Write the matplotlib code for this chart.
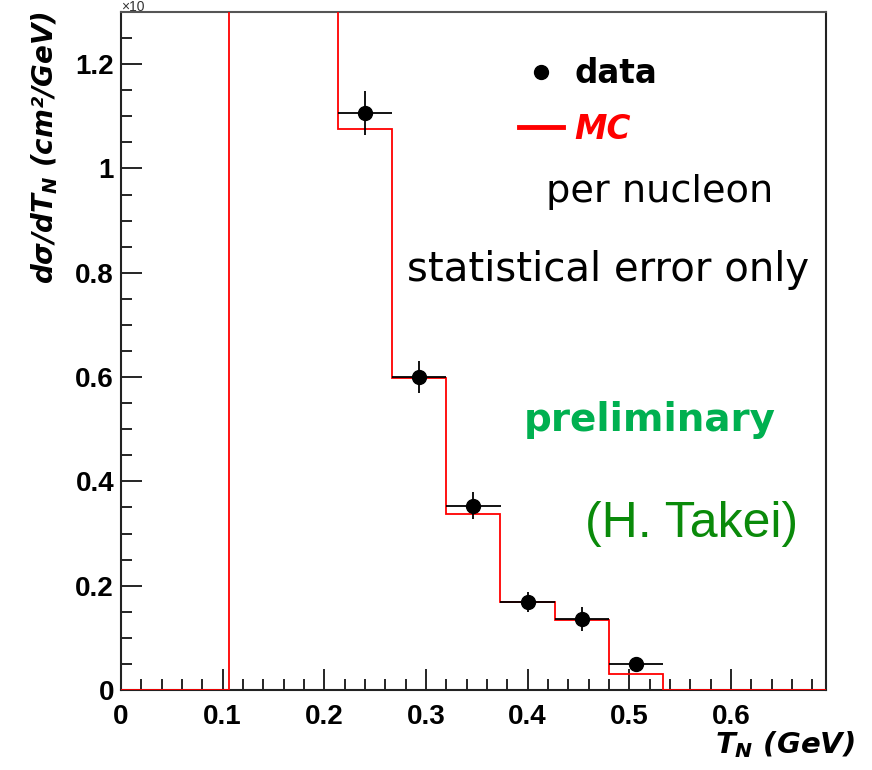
import numpy as np
import matplotlib
matplotlib.use("Agg")
import matplotlib.pyplot as plt
from matplotlib.ticker import MultipleLocator, FuncFormatter
from matplotlib.lines import Line2D

# bin edges of the histogram (GeV)
bin_edges = [0.0, 0.0533, 0.1067, 0.16, 0.2133, 0.2667, 0.32, 0.3733,
             0.4267, 0.48, 0.5333, 0.5867, 0.64, 0.6933]
# MC prediction per bin, the first filled bins go off the top of the frame
mc_values = [0.0, 0.0, 2.2, 1.9, 1.075, 0.598, 0.337, 0.168, 0.134, 0.030, 0.0, 0.0, 0.0]

# measured data points
data_x = [0.24, 0.2933, 0.3467, 0.40, 0.4533, 0.5067]
data_y = [1.106, 0.600, 0.353, 0.169, 0.136, 0.049]
data_yerr = [0.042, 0.030, 0.026, 0.019, 0.023, 0.010]
data_xerr = [0.0267] * 6

plt.rcParams['mathtext.fontset'] = 'custom'
plt.rcParams['mathtext.it'] = 'DejaVu Sans:italic:bold'
plt.rcParams['mathtext.rm'] = 'DejaVu Sans:bold'

fig = plt.figure(figsize=(8.72, 7.7), dpi=100)
ax = fig.add_axes([0.1388, 0.1039, 0.8081, 0.8805])

# MC histogram
ax.stairs(mc_values, bin_edges, color='red', lw=1.3, zorder=3)

# data with errors
ax.errorbar(data_x, data_y, xerr=data_xerr, yerr=data_yerr, fmt='o', color='black',
            ms=10, elinewidth=1.3, capsize=0, zorder=4)

ax.set_xlim(0, 0.6933)
ax.set_ylim(0, 1.3)

ax.xaxis.set_major_locator(MultipleLocator(0.1))
ax.xaxis.set_minor_locator(MultipleLocator(0.02))
ax.yaxis.set_major_locator(MultipleLocator(0.2))
ax.yaxis.set_minor_locator(MultipleLocator(0.05))
fmt = FuncFormatter(lambda v, p: f"{v:g}")
ax.xaxis.set_major_formatter(fmt)
ax.yaxis.set_major_formatter(fmt)

ax.tick_params(which='both', direction='in', top=False, right=False, width=1.2, color='black')
ax.tick_params(which='major', length=15)
ax.tick_params(which='minor', length=8)
ax.tick_params(axis='x', pad=10)
ax.tick_params(axis='y', pad=5)
for lab in ax.get_xticklabels() + ax.get_yticklabels():
    lab.set_fontfamily('Liberation Sans')
    lab.set_fontweight('bold')
    lab.set_fontsize(20)

for side in ['left', 'bottom', 'right']:
    ax.spines[side].set_linewidth(1.5)
    ax.spines[side].set_color('#222222')
ax.spines['top'].set_linewidth(1.5)
ax.spines['top'].set_color('#555555')

# legend
handles = [Line2D([], [], marker='o', ls='none', color='black', ms=10),
           Line2D([], [], color='red', lw=3.5)]
leg = ax.legend(handles, ['data', 'MC'], loc='upper left', bbox_to_anchor=(0.523, 0.977),
                frameon=False, handlelength=1.35, handletextpad=0.34, labelspacing=0.7,
                prop={'family': 'DejaVu Sans', 'weight': 'bold', 'size': 23.5})
leg.get_texts()[1].set_color('red')
leg.get_texts()[1].set_style('italic')

ax.text(0.765, 0.735, 'per nucleon', transform=ax.transAxes, ha='center', va='center',
        fontsize=27.5, family='DejaVu Sans')
ax.text(0.691, 0.619, 'statistical error only', transform=ax.transAxes, ha='center', va='center',
        fontsize=29, family='DejaVu Sans')
ax.text(0.751, 0.398, 'preliminary', transform=ax.transAxes, ha='center', va='center',
        fontsize=28, family='DejaVu Sans', weight='bold', color='#00b050')
ax.text(0.809, 0.245, '(H. Takei)', transform=ax.transAxes, ha='center', va='center',
        fontsize=36, family='Liberation Sans', color='#0a8a0a')

# axis titles (ROOT style)
fig.text(855 / 872, 1 - 745 / 770, r'$T_N$ (GeV)', ha='right', va='center',
         fontsize=21, family='DejaVu Sans', weight='bold', style='italic')
fig.text(45 / 872, 1 - 284 / 770, r'd$\sigma$/d$T_N$ (cm²/GeV)', rotation=90,
         rotation_mode='anchor', ha='left', va='center', fontsize=20,
         family='DejaVu Sans', weight='bold', style='italic')
fig.text(121 / 872, 1 - 11 / 770, '×10', ha='left', va='baseline', fontsize=10,
         family='Liberation Sans', color='#333333')

fig.savefig('out.png', dpi=100)
